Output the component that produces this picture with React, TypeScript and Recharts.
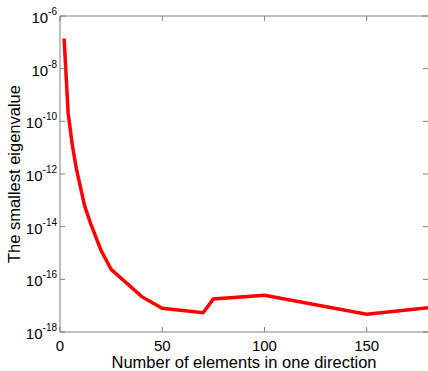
import React from "react";
import { LineChart, Line, XAxis, YAxis, ReferenceLine } from "recharts";

// number of elements in one direction
const elements = [2, 4, 6, 8, 10, 12, 15, 20, 25, 40, 50, 70, 75, 100, 150, 180];
// smallest eigenvalue for each mesh
const smallestEig = [
  1.4e-7, 2.0e-10, 1.3e-11, 1.6e-12, 3.2e-13, 6.3e-14, 1.3e-14, 1.3e-15, 2.4e-16,
  2.2e-17, 7.9e-18, 5.4e-18, 1.8e-17, 2.5e-17, 4.7e-18, 8.3e-18,
];
const xTicks = [0, 50, 100, 150];
const yTicks = [1e-6, 1e-8, 1e-10, 1e-12, 1e-14, 1e-16, 1e-18];

const data = elements.map((n, i) => ({ n, eig: smallestEig[i] }));

const W = 428;
const H = 371;
const LEFT = 60;
const TOP = 16;
const BOTTOM = 332;
const RIGHT = 428;
const AXIS = "#808080";
const FONT = "'Liberation Sans', Arial, sans-serif";

function YTick(props: any) {
  const { y, payload } = props;
  const exp = Math.round(Math.log10(payload.value));
  return (
    <g>
      <line x1={LEFT} x2={LEFT + 5} y1={y} y2={y} stroke={AXIS} />
      <line x1={RIGHT - 5} x2={RIGHT} y1={y} y2={y} stroke={AXIS} />
      <text x={LEFT - 3} y={y + 7} textAnchor="end" fontFamily={FONT} fontSize={15} fill="#000">
        <tspan>10</tspan>
        <tspan dy={-8} fontSize={10}>{exp}</tspan>
      </text>
    </g>
  );
}

function XTick(props: any) {
  const { x, payload } = props;
  return (
    <g>
      <line x1={x} x2={x} y1={BOTTOM} y2={BOTTOM - 5} stroke={AXIS} />
      <line x1={x} x2={x} y1={TOP} y2={TOP + 5} stroke={AXIS} />
      <text x={x} y={BOTTOM + 19} textAnchor="middle" fontFamily={FONT} fontSize={15} fill="#000">
        {payload.value}
      </text>
    </g>
  );
}

export default function App() {
  return (
    <div style={{ position: "absolute", left: 0, top: 0, width: W, height: H, background: "#fff" }}>
      <LineChart width={W} height={H} data={data} margin={{ top: TOP, right: 0, left: 0, bottom: 0 }}>
        <XAxis
          dataKey="n"
          type="number"
          domain={[0, 180]}
          ticks={xTicks}
          allowDataOverflow
          height={H - BOTTOM}
          stroke={AXIS}
          tickLine={false}
          tickSize={0}
          tick={<XTick />}
          label={{
            value: "Number of elements in one direction",
            position: "insideBottom",
            offset: 3,
            fill: "#000",
            fontSize: 16.5,
            fontFamily: FONT,
          }}
        />
        <YAxis
          type="number"
          scale="log"
          domain={[1e-18, 1e-6]}
          ticks={yTicks}
          allowDataOverflow
          width={LEFT}
          stroke={AXIS}
          tickLine={false}
          tickSize={0}
          tick={<YTick />}
          label={{
            value: "The smallest eigenvalue",
            angle: -90,
            position: "insideLeft",
            offset: 14,
            fill: "#000",
            fontSize: 16.5,
            fontFamily: FONT,
            style: { textAnchor: "middle" },
          }}
        />
        <ReferenceLine y={1e-6} stroke={AXIS} />
        <Line
          dataKey="eig"
          stroke="#ff0000"
          strokeWidth={3.5}
          dot={false}
          isAnimationActive={false}
        />
      </LineChart>
    </div>
  );
}
